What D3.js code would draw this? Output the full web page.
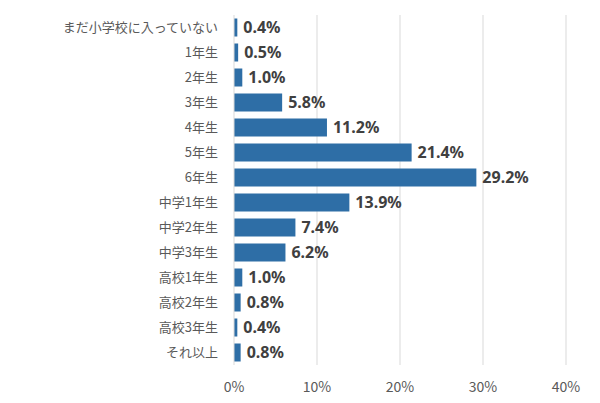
<!DOCTYPE html>
<html><head><meta charset="utf-8">
<script src="https://cdn.jsdelivr.net/npm/d3@7"></script>
<style>body{margin:0;background:#fff}</style>
</head><body><svg id="c" width="600" height="403"></svg>
<script>
var categories = ["まだ小学校に入っていない","1年生","2年生","3年生","4年生","5年生","6年生","中学1年生","中学2年生","中学3年生","高校1年生","高校2年生","高校3年生","それ以上"];
var values = [0.4,0.5,1.0,5.8,11.2,21.4,29.2,13.9,7.4,6.2,1.0,0.8,0.4,0.8];
var ticks = [0,10,20,30,40];

var svg = d3.select("#c");
var font = "'Noto Sans CJK JP','Noto Sans',sans-serif";
var x = d3.scaleLinear().domain([0,40]).range([234,566]);
var y = d3.scaleBand().domain(categories).range([15,365]).paddingInner(0.28).paddingOuter(0.14);

svg.append("g").selectAll("line").data(ticks.slice(1)).join("line")
  .attr("x1",d=>x(d)).attr("x2",d=>x(d)).attr("y1",15).attr("y2",365)
  .attr("stroke","#d9d9d9").attr("stroke-width",1);

svg.append("g").selectAll("text").data(ticks).join("text")
  .attr("x",d=>x(d)).attr("y",392).attr("text-anchor","middle")
  .attr("font-family",font).attr("font-size",14).attr("fill","#595959")
  .text(d=>d+"%");

svg.append("g").selectAll("rect").data(values).join("rect")
  .attr("x",x(0)).attr("y",(d,i)=>y(categories[i]))
  .attr("width",d=>x(d)-x(0)).attr("height",y.bandwidth())
  .attr("fill","#2e6ea6");

svg.append("line").attr("x1",x(0)).attr("x2",x(0)).attr("y1",15).attr("y2",365)
  .attr("stroke","#d9d9d9");

svg.append("g").selectAll("text").data(values).join("text")
  .attr("x",d=>x(d)+6).attr("y",(d,i)=>y(categories[i])+y.bandwidth()/2)
  .attr("dy","0.36em").attr("font-family","'Noto Sans',sans-serif")
  .attr("font-weight","bold").attr("font-size",16).attr("fill","#404040")
  .text(d=>d.toFixed(1)+"%");

svg.append("g").selectAll("text").data(categories).join("text")
  .attr("x",218).attr("y",d=>y(d)+y.bandwidth()/2).attr("dy","0.36em")
  .attr("text-anchor","end").attr("font-family",font).attr("font-size",13)
  .attr("fill","#595959").text(d=>d);
</script></body></html>
